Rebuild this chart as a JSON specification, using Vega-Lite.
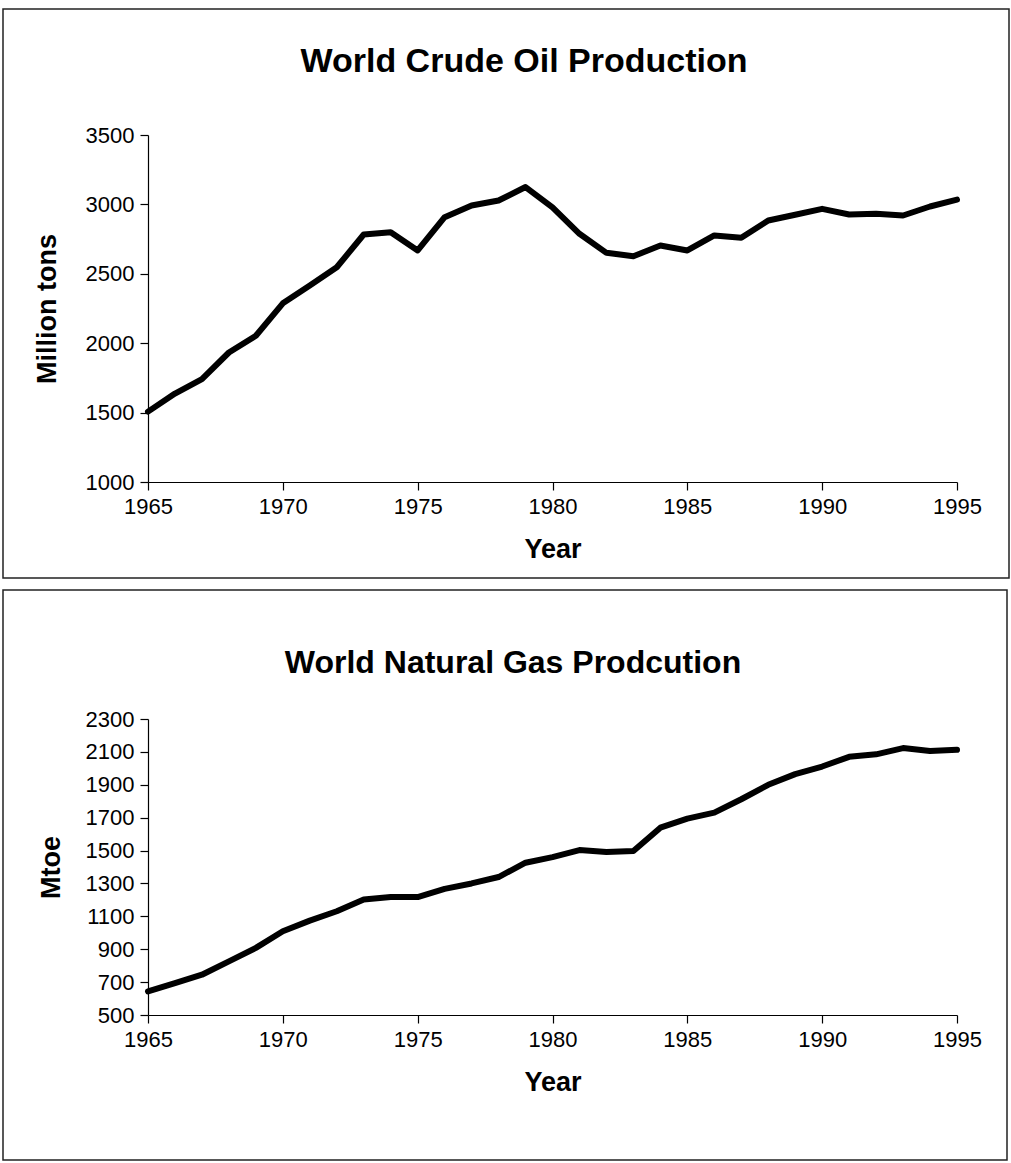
{
  "$schema": "https://vega.github.io/schema/vega-lite/v6.json",
  "background": "white",
  "padding": {"left": 2, "top": 8, "right": 0, "bottom": 0},
  "spacing": 10,
  "config": {
    "font": "Liberation Sans",
    "view": {"stroke": "#222", "strokeWidth": 1.5},
    "axis": {
      "domainColor": "black", "tickColor": "black", "grid": false,
      "labelFont": "Liberation Sans", "labelFontSize": 22, "labelColor": "black",
      "titleFont": "Liberation Sans", "titleFontSize": 27, "titleFontWeight": "bold", "titleColor": "black",
      "tickSize": 8, "domainWidth": 1.2, "tickWidth": 1.2, "labelFlush": false
    },
    "title": {"font": "Liberation Sans", "fontSize": 34, "fontWeight": "bold", "color": "black"}
  },
  "datasets": {
    "oil": [
      {"year": 1965, "value": 1507}, {"year": 1966, "value": 1637}, {"year": 1967, "value": 1741},
      {"year": 1968, "value": 1933}, {"year": 1969, "value": 2054}, {"year": 1970, "value": 2287},
      {"year": 1971, "value": 2415}, {"year": 1972, "value": 2547}, {"year": 1973, "value": 2783},
      {"year": 1974, "value": 2800}, {"year": 1975, "value": 2668}, {"year": 1976, "value": 2908},
      {"year": 1977, "value": 2992}, {"year": 1978, "value": 3028}, {"year": 1979, "value": 3125},
      {"year": 1980, "value": 2978}, {"year": 1981, "value": 2788}, {"year": 1982, "value": 2651},
      {"year": 1983, "value": 2627}, {"year": 1984, "value": 2704}, {"year": 1985, "value": 2668},
      {"year": 1986, "value": 2776}, {"year": 1987, "value": 2759}, {"year": 1988, "value": 2884},
      {"year": 1989, "value": 2925}, {"year": 1990, "value": 2968}, {"year": 1991, "value": 2927},
      {"year": 1992, "value": 2932}, {"year": 1993, "value": 2920}, {"year": 1994, "value": 2985},
      {"year": 1995, "value": 3034}
    ],
    "gas": [
      {"year": 1965, "value": 643}, {"year": 1966, "value": 694}, {"year": 1967, "value": 745},
      {"year": 1968, "value": 826}, {"year": 1969, "value": 908}, {"year": 1970, "value": 1009},
      {"year": 1971, "value": 1074}, {"year": 1972, "value": 1131}, {"year": 1973, "value": 1202},
      {"year": 1974, "value": 1217}, {"year": 1975, "value": 1217}, {"year": 1976, "value": 1267},
      {"year": 1977, "value": 1300}, {"year": 1978, "value": 1339}, {"year": 1979, "value": 1426},
      {"year": 1980, "value": 1460}, {"year": 1981, "value": 1503}, {"year": 1982, "value": 1491},
      {"year": 1983, "value": 1497}, {"year": 1984, "value": 1639}, {"year": 1985, "value": 1694},
      {"year": 1986, "value": 1731}, {"year": 1987, "value": 1812}, {"year": 1988, "value": 1900},
      {"year": 1989, "value": 1965}, {"year": 1990, "value": 2011}, {"year": 1991, "value": 2070},
      {"year": 1992, "value": 2085}, {"year": 1993, "value": 2123}, {"year": 1994, "value": 2105},
      {"year": 1995, "value": 2113}
    ]
  },
  "vconcat": [
    {
      "width": 1006, "height": 569,
      "title": {"text": "World Crude Oil Production", "anchor": "middle", "dx": 18, "offset": -97, "baseline": "alphabetic"},
      "data": {"name": "oil"},
      "mark": {"type": "line", "color": "black", "strokeWidth": 6, "strokeJoin": "round", "strokeCap": "round"},
      "encoding": {
        "x": {"field": "year", "type": "quantitative", "title": "Year",
              "scale": {"domain": [1965, 1995], "nice": false, "zero": false, "range": [145, 954]},
              "axis": {"values": [1965, 1970, 1975, 1980, 1985, 1990, 1995], "format": "d", "labelPadding": 6, "titlePadding": 19, "offset": -96}},
        "y": {"field": "value", "type": "quantitative", "title": "Million tons",
              "scale": {"domain": [1000, 3500], "nice": false, "zero": false, "range": [473, 126]},
              "axis": {"values": [1000, 1500, 2000, 2500, 3000, 3500], "format": "d", "labelPadding": 6, "titlePadding": 24, "offset": -145}}
      }
    },
    {
      "width": 1004, "height": 570,
      "title": {"text": "World Natural Gas Prodcution", "anchor": "middle", "dx": 8, "offset": -115, "fontSize": 32, "baseline": "alphabetic"},
      "data": {"name": "gas"},
      "mark": {"type": "line", "color": "black", "strokeWidth": 6, "strokeJoin": "round", "strokeCap": "round"},
      "encoding": {
        "x": {"field": "year", "type": "quantitative", "title": "Year",
              "scale": {"domain": [1965, 1995], "nice": false, "zero": false, "range": [145, 954]},
              "axis": {"values": [1965, 1970, 1975, 1980, 1985, 1990, 1995], "format": "d", "labelPadding": 6, "titlePadding": 19, "offset": -145}},
        "y": {"field": "value", "type": "quantitative", "title": "Mtoe",
              "scale": {"domain": [500, 2300], "nice": false, "zero": false, "range": [425, 129]},
              "axis": {"values": [500, 700, 900, 1100, 1300, 1500, 1700, 1900, 2100, 2300], "format": "d", "labelPadding": 6, "titlePadding": 20, "offset": -145}}
      }
    }
  ]
}
